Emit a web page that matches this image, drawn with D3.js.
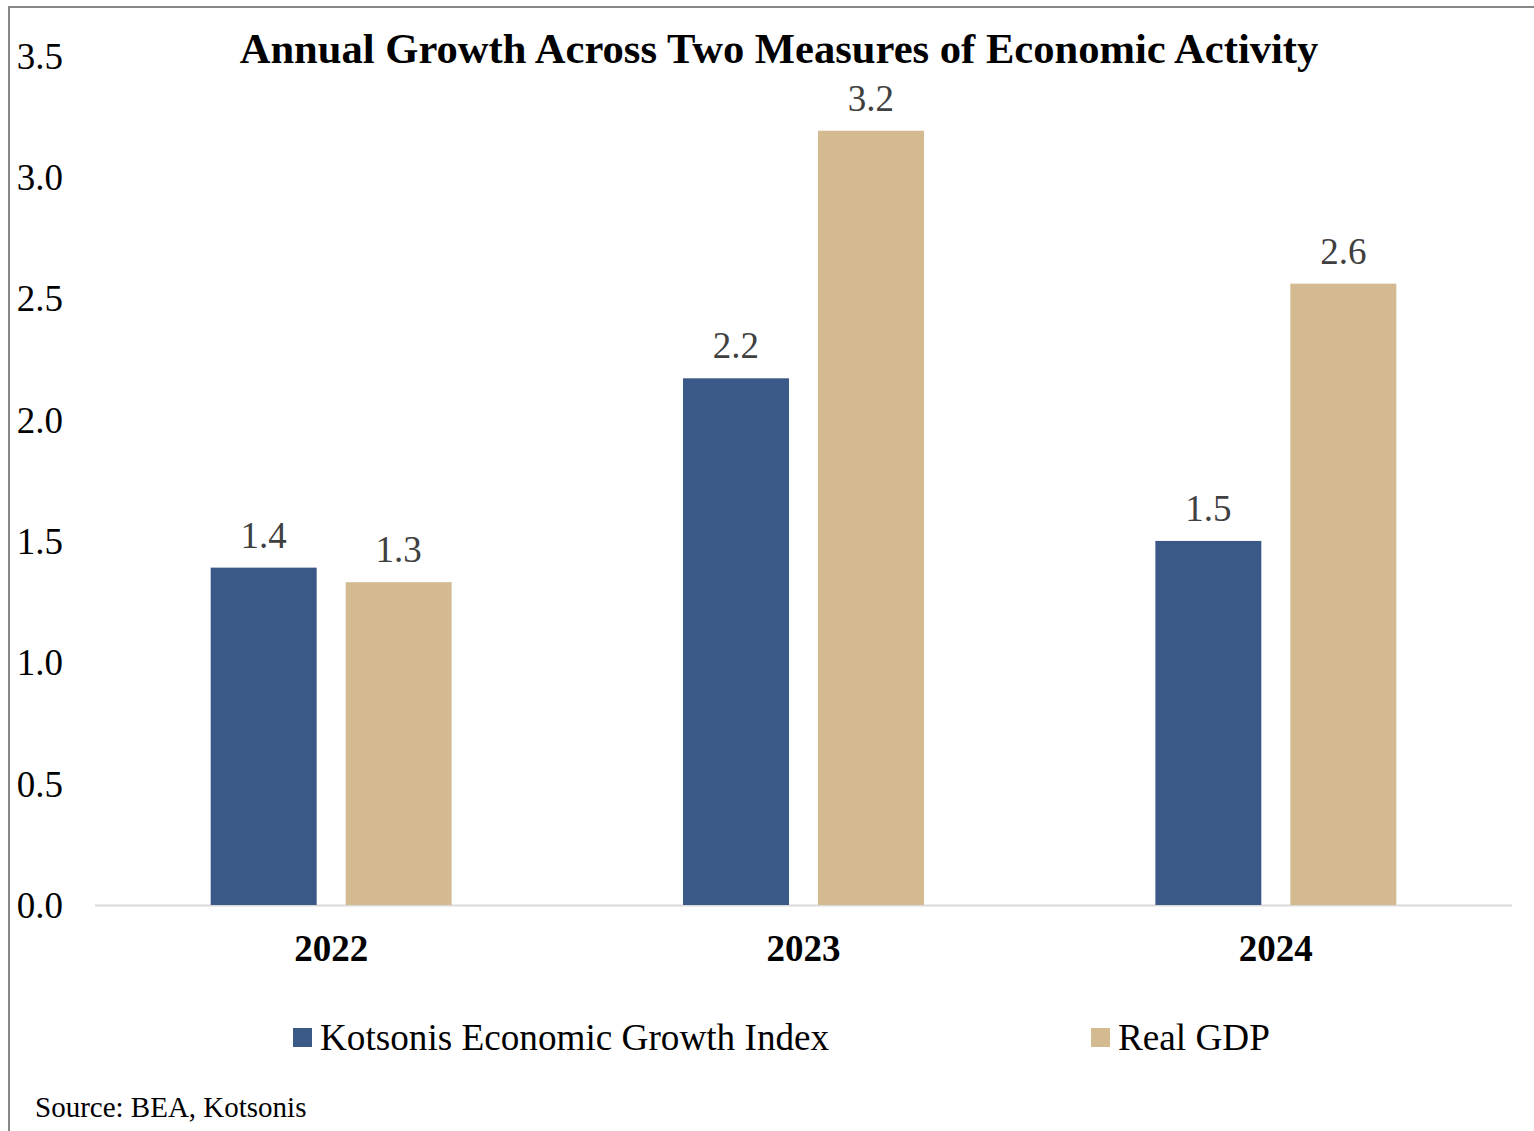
<!DOCTYPE html>
<html>
<head>
<meta charset="utf-8">
<script src="https://cdn.jsdelivr.net/npm/d3@7"></script>
<style>
  html, body { margin: 0; padding: 0; background: #fff; }
  svg { display: block; font-family: "Liberation Serif", "Times New Roman", serif; }
</style>
</head>
<body>
<svg id="chart" width="1534" height="1131"></svg>
<script>
// Chart data
const years = ["2022", "2023", "2024"];
const seriesNames = ["Kotsonis Economic Growth Index", "Real GDP"];
const kotsonisIndex = [1.39, 2.17, 1.50];
const realGDP = [1.33, 3.19, 2.56];
const yTicks = [0, 0.5, 1.0, 1.5, 2.0, 2.5, 3.0, 3.5];
const colors = ["#3a5986", "#d3ba91"];

const title = "Annual Growth Across Two Measures of Economic Activity";
const sourceNote = "Source: BEA, Kotsonis";

const svg = d3.select("#chart");

// Outer frame
svg.append("rect")
  .attr("x", 9).attr("y", 7)
  .attr("width", 1560).attr("height", 1160)
  .attr("fill", "none")
  .attr("stroke", "#878787")
  .attr("stroke-width", 2);

const plot = { left: 95, right: 1512, top: 55.5, bottom: 905 };

const y = d3.scaleLinear()
  .domain([0, 3.5])
  .range([plot.bottom, plot.top]);

const x0 = d3.scaleBand()
  .domain(years)
  .range([plot.left, plot.right])
  .paddingInner(0)
  .paddingOuter(0);

const x1 = d3.scaleBand()
  .domain(seriesNames)
  .range([0, x0.bandwidth()])
  .paddingInner(0.215)
  .paddingOuter(0.857);

const color = d3.scaleOrdinal().domain(seriesNames).range(colors);

const rows = years.map((yr, i) => ({
  year: yr,
  values: [
    { name: seriesNames[0], value: kotsonisIndex[i] },
    { name: seriesNames[1], value: realGDP[i] }
  ]
}));

// Y axis labels (no line, no tick marks)
const yAxis = d3.axisLeft(y)
  .tickValues(yTicks)
  .tickFormat(d3.format(".1f"))
  .tickSize(0)
  .tickPadding(0);

const yAxisG = svg.append("g")
  .attr("transform", "translate(63,0)")
  .call(yAxis);
yAxisG.select(".domain").remove();
yAxisG.selectAll("text")
  .attr("font-family", "Liberation Serif, Times New Roman, serif")
  .attr("font-size", 37)
  .attr("fill", "#000")
  .attr("dy", "0.34em");

// Baseline
svg.append("line")
  .attr("x1", plot.left).attr("x2", plot.right)
  .attr("y1", y(0) + 0.5).attr("y2", y(0) + 0.5)
  .attr("stroke", "#d9d9d9")
  .attr("stroke-width", 2);

// Bars
const groups = svg.append("g")
  .selectAll("g")
  .data(rows)
  .join("g")
  .attr("transform", d => `translate(${x0(d.year)},0)`);

groups.selectAll("rect")
  .data(d => d.values)
  .join("rect")
  .attr("x", d => x1(d.name))
  .attr("y", d => y(d.value))
  .attr("width", x1.bandwidth())
  .attr("height", d => y(0) - y(d.value))
  .attr("fill", d => color(d.name));

// Value labels
groups.selectAll("text.value")
  .data(d => d.values)
  .join("text")
  .attr("class", "value")
  .attr("x", d => x1(d.name) + x1.bandwidth() / 2)
  .attr("y", d => y(d.value) - 20)
  .attr("text-anchor", "middle")
  .attr("font-size", 37)
  .attr("fill", "#404040")
  .text(d => d3.format(".1f")(d.value));

// X axis category labels
const xAxis = d3.axisBottom(x0).tickSize(0).tickPadding(0);
const xAxisG = svg.append("g")
  .attr("transform", `translate(0,${y(0)})`)
  .call(xAxis);
xAxisG.select(".domain").remove();
xAxisG.selectAll("text")
  .attr("font-family", "Liberation Serif, Times New Roman, serif")
  .attr("font-size", 37)
  .attr("font-weight", "bold")
  .attr("fill", "#000")
  .attr("dy", 0)
  .attr("y", 56);

// Title
svg.append("text")
  .attr("x", 779)
  .attr("y", 63)
  .attr("text-anchor", "middle")
  .attr("font-size", 42.6)
  .attr("font-weight", "bold")
  .attr("fill", "#000")
  .text(title);

// Legend
const legendPos = [293, 1091];
const legend = svg.append("g")
  .selectAll("g")
  .data(seriesNames)
  .join("g")
  .attr("transform", (d, i) => `translate(${legendPos[i]},1028)`);
legend.append("rect")
  .attr("width", 19).attr("height", 19)
  .attr("fill", d => color(d));
legend.append("text")
  .attr("x", 27)
  .attr("y", 22)
  .attr("font-size", 37.2)
  .attr("fill", "#000")
  .text(d => d);

// Source note
svg.append("text")
  .attr("x", 35)
  .attr("y", 1117)
  .attr("font-size", 29)
  .attr("fill", "#000")
  .text(sourceNote);
</script>
</body>
</html>
